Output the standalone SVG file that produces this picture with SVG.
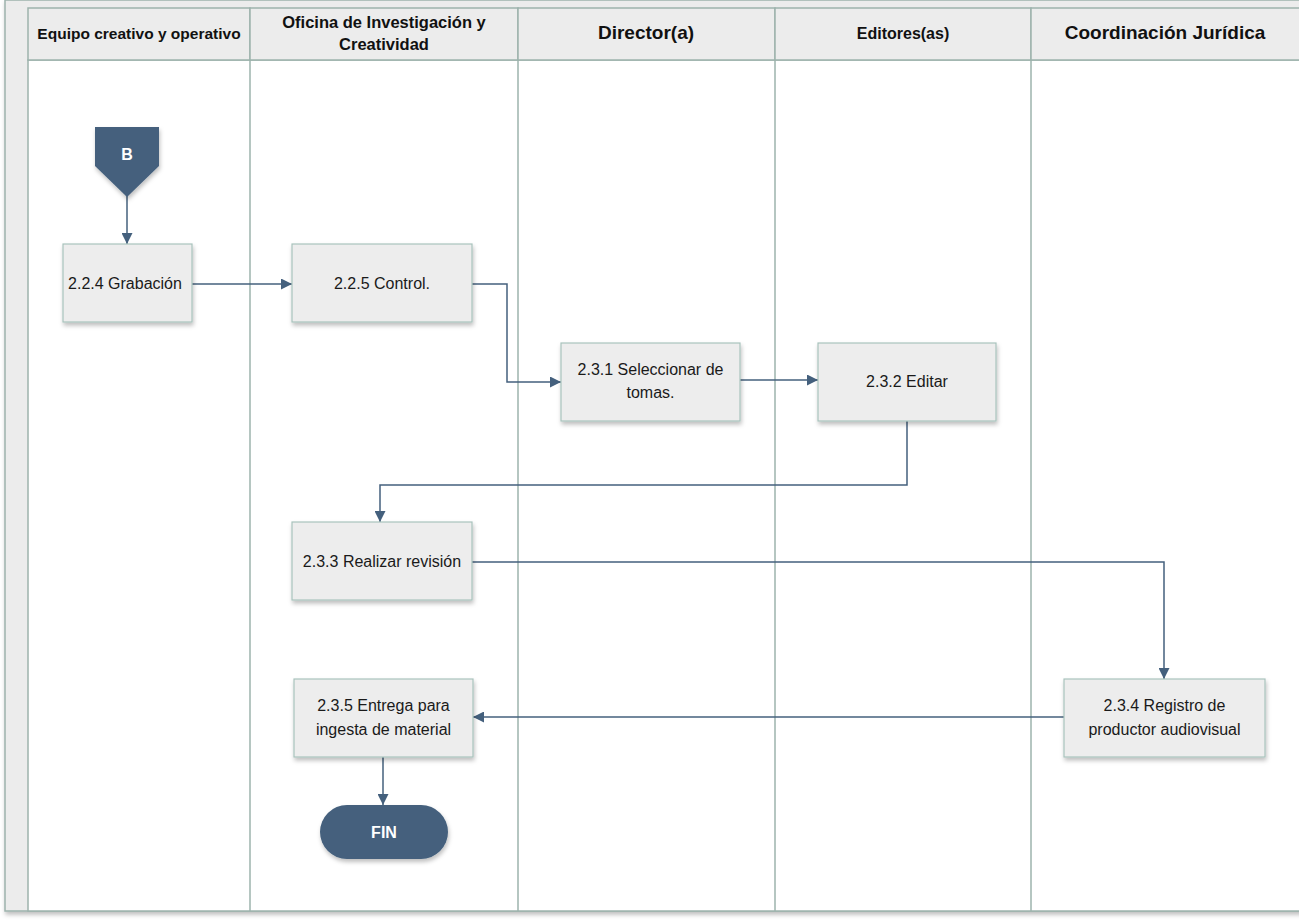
<svg xmlns="http://www.w3.org/2000/svg" width="1299" height="924" viewBox="0 0 1299 924">
<style>
.lane{fill:#ffffff;stroke:#9db3ac;stroke-width:1.5}
.hdr{fill:#ececec;stroke:#9db3ac;stroke-width:1.5}
.ht{font-family:"Liberation Sans",Arial,sans-serif;font-weight:bold;fill:#111;text-anchor:middle}
.box{fill:#ededed;stroke:#a9c3bd;stroke-width:1.2}
.bt{font-family:"Liberation Sans",Arial,sans-serif;font-size:16px;fill:#1a1a1a;text-anchor:middle}
.dark{fill:#44607d}
.wt{font-family:"Liberation Sans",Arial,sans-serif;font-weight:bold;font-size:16px;fill:#fff;text-anchor:middle}
.con{fill:none;stroke:#44607d;stroke-width:1.5}
</style>
<defs>
<marker id="arr" viewBox="0 0 10 10" refX="10" refY="5" markerWidth="11" markerHeight="11" markerUnits="userSpaceOnUse" orient="auto">
<path d="M0,0 L10,5 L0,10 z" fill="#44607d"/>
</marker>
<filter id="sh" x="-10%" y="-10%" width="130%" height="140%">
<feDropShadow dx="1" dy="3" stdDeviation="2" flood-color="#000" flood-opacity="0.25"/>
</filter>
</defs>
<rect width="1299" height="924" fill="#ffffff"/>
<g id="pool">
<rect x="5" y="0" width="1300" height="911" class="hdr" filter="url(#sh)"/>
<rect x="28" y="60" width="1275" height="851" class="lane"/>
<rect x="28" y="8" width="222" height="52" class="hdr"/>
<rect x="250" y="8" width="268" height="52" class="hdr"/>
<rect x="518" y="8" width="257" height="52" class="hdr"/>
<rect x="775" y="8" width="256" height="52" class="hdr"/>
<rect x="1031" y="8" width="272" height="52" class="hdr"/>
<line x1="250" y1="60" x2="250" y2="911" stroke="#9db3ac" stroke-width="1.5"/>
<line x1="518" y1="60" x2="518" y2="911" stroke="#9db3ac" stroke-width="1.5"/>
<line x1="775" y1="60" x2="775" y2="911" stroke="#9db3ac" stroke-width="1.5"/>
<line x1="1031" y1="60" x2="1031" y2="911" stroke="#9db3ac" stroke-width="1.5"/>
<text class="ht" x="139" y="39" font-size="15.5">Equipo creativo y operativo</text>
<text class="ht" x="384" y="28" font-size="16.5">Oficina de Investigación y</text>
<text class="ht" x="384" y="50" font-size="16.5">Creatividad</text>
<text class="ht" x="646" y="39" font-size="19">Director(a)</text>
<text class="ht" x="903" y="39" font-size="16">Editores(as)</text>
<text class="ht" x="1165" y="39" font-size="19">Coordinación Jurídica</text>
</g>
<g id="connectors">
<path class="con" d="M127,196 V244" marker-end="url(#arr)"/>
<path class="con" d="M192,284 H292" marker-end="url(#arr)"/>
<path class="con" d="M472,284 H507 V382 H561" marker-end="url(#arr)"/>
<path class="con" d="M740,380 H818" marker-end="url(#arr)"/>
<path class="con" d="M907,421 V485 H380 V522" marker-end="url(#arr)"/>
<path class="con" d="M472,562 H1164 V679" marker-end="url(#arr)"/>
<path class="con" d="M1064,717 H473" marker-end="url(#arr)"/>
<path class="con" d="M383,757 V805" marker-end="url(#arr)"/>
</g>
<g id="nB">
<path class="dark" d="M95,127 H159 V166 L127,197 L95,166 Z" filter="url(#sh)"/>
<text class="wt" x="127" y="160">B</text>
</g>
<g id="n224">
<rect class="box" x="63" y="244" width="129" height="78" filter="url(#sh)"/>
<text class="bt" x="125" y="289">2.2.4 Grabación</text>
</g>
<g id="n225">
<rect class="box" x="292" y="244" width="180" height="78" filter="url(#sh)"/>
<text class="bt" x="382" y="289">2.2.5 Control.</text>
</g>
<g id="n231">
<rect class="box" x="561" y="343" width="179" height="78" filter="url(#sh)"/>
<text class="bt" x="650.5" y="375">2.3.1 Seleccionar de</text>
<text class="bt" x="650.5" y="398">tomas.</text>
</g>
<g id="n232">
<rect class="box" x="818" y="343" width="178" height="78" filter="url(#sh)"/>
<text class="bt" x="907" y="387">2.3.2 Editar</text>
</g>
<g id="n233">
<rect class="box" x="292" y="522" width="180" height="78" filter="url(#sh)"/>
<text class="bt" x="382" y="567">2.3.3 Realizar revisión</text>
</g>
<g id="n234">
<rect class="box" x="1064" y="679" width="201" height="78" filter="url(#sh)"/>
<text class="bt" x="1164.5" y="711">2.3.4 Registro de</text>
<text class="bt" x="1164.5" y="735">productor audiovisual</text>
</g>
<g id="n235">
<rect class="box" x="294" y="679" width="179" height="78" filter="url(#sh)"/>
<text class="bt" x="383.5" y="711">2.3.5 Entrega para</text>
<text class="bt" x="383.5" y="735">ingesta de material</text>
</g>
<g id="nFIN">
<rect class="dark" x="320" y="805" width="128" height="54" rx="27" filter="url(#sh)"/>
<text class="wt" x="384" y="838">FIN</text>
</g>
</svg>
